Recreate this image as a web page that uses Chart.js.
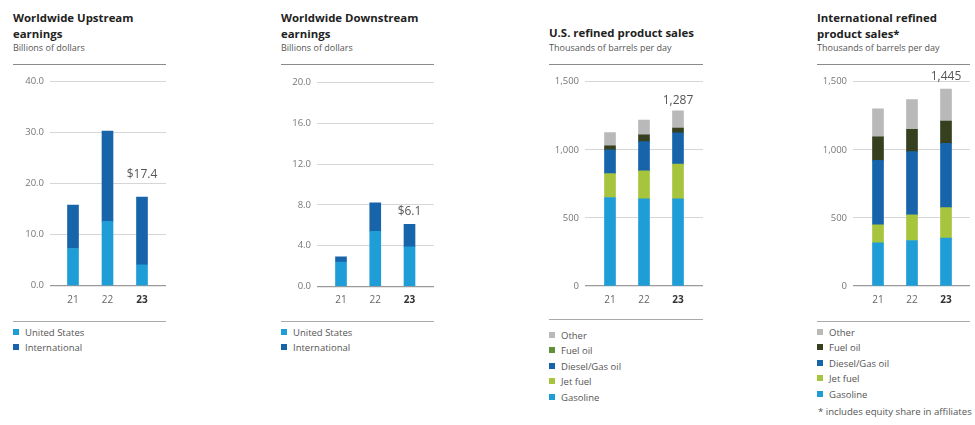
<!DOCTYPE html>
<html>
<head>
<meta charset="utf-8">
<script src="https://cdn.jsdelivr.net/npm/chart.js@4.4.0/dist/chart.umd.min.js"></script>
<style>
  body { margin: 0; background: #fff; font-family: "Open Sans", sans-serif; }
  #page { position: relative; width: 975px; height: 425px; overflow: hidden; }
  .title { position: absolute; font-weight: 700; font-size: 11.4px; line-height: 15.5px; color: #222; white-space: nowrap; }
  .sub { position: absolute; font-size: 9px; color: #555; white-space: nowrap; }
  .rule { position: absolute; height: 1px; background: #8a8a8a; }
  canvas { position: absolute; }
  .legend { position: absolute; font-size: 9.5px; color: #555; line-height: 15.4px; white-space: nowrap; }
  .legend span { display: inline-block; width: 6px; height: 6px; margin-right: 6px; vertical-align: 1px; }
  .note { position: absolute; font-size: 9.6px; color: #555; white-space: nowrap; }
</style>
</head>
<body>
<div id="page">
  <div class="title" style="left:13px;top:10px">Worldwide Upstream<br>earnings</div>
  <div class="sub" style="left:13px;top:41px">Billions of dollars</div>
  <div class="rule" style="left:13px;top:64px;width:153px"></div>
  <canvas id="c1"></canvas>
  <div class="rule" style="left:13px;top:321px;width:153px;background:#aaa"></div>
  <div class="legend" id="l1" style="left:13px;top:325px"></div>

  <div class="title" style="left:281px;top:10px">Worldwide Downstream<br>earnings</div>
  <div class="sub" style="left:281px;top:41px">Billions of dollars</div>
  <div class="rule" style="left:281px;top:64px;width:153px"></div>
  <canvas id="c2"></canvas>
  <div class="rule" style="left:281px;top:321px;width:153px;background:#aaa"></div>
  <div class="legend" id="l2" style="left:281px;top:325px"></div>

  <div class="title" style="left:549px;top:25px">U.S. refined product sales</div>
  <div class="sub" style="left:549px;top:41px">Thousands of barrels per day</div>
  <div class="rule" style="left:549px;top:64px;width:154px"></div>
  <canvas id="c3"></canvas>
  <div class="rule" style="left:549px;top:319px;width:154px;background:#aaa"></div>
  <div class="legend" id="l3" style="left:549px;top:328px"></div>

  <div class="title" style="left:817px;top:10px">International refined<br>product sales*</div>
  <div class="sub" style="left:817px;top:41px">Thousands of barrels per day</div>
  <div class="rule" style="left:817px;top:64px;width:153px"></div>
  <canvas id="c4"></canvas>
  <div class="rule" style="left:817px;top:321px;width:153px;background:#aaa"></div>
  <div class="legend" id="l4" style="left:817px;top:325px"></div>
  <div class="note" style="left:818px;top:405px">* includes equity share in affiliates</div>
</div>

<script>
// ---- data ----
const years = ['21', '22', '23'];

// Worldwide upstream earnings, billions of dollars
const upstreamUS = [7.3, 12.6, 4.1];
const upstreamIntl = [8.5, 17.7, 13.3];

// Worldwide downstream earnings, billions of dollars
const downstreamUS = [2.4, 5.4, 3.9];
const downstreamIntl = [0.5, 2.8, 2.2];

// U.S. refined product sales, thousands of barrels per day
const usGasoline = [650, 640, 640];
const usJetFuel = [175, 205, 255];
const usDiesel = [175, 215, 230];
const usFuelOil = [30, 50, 35];
const usOther = [97, 108, 127];

// International refined product sales, thousands of barrels per day
const intlGasoline = [317, 334, 351];
const intlJetFuel = [133, 188, 225];
const intlDiesel = [472, 465, 471];
const intlFuelOil = [174, 164, 163];
const intlOther = [205, 218, 235];

const earningsTicks = [0, 10, 20, 30, 40];
const downstreamTicks = [0, 4, 8, 12, 16, 20];
const salesTicks = [0, 500, 1000, 1500];

// ---- colours ----
const LIGHT_BLUE = '#1f9dd6';
const DARK_BLUE = '#1764ab';
const LIME = '#a6c43c';
const OLIVE = '#363f1e';
const GREEN = '#5f8f37';
const GREY = '#b9b9b9';
const FONT = 'Open Sans';

function series(label, values, color) {
  return {
    label: label,
    data: values.map((v, i) => ({ x: i, y: v })),
    backgroundColor: color,
    borderWidth: 0,
    barThickness: 11
  };
}

// draws the total above the last (current year) bar
const totalLabel = {
  id: 'totalLabel',
  afterDatasetsDraw(chart, args, opts) {
    const last = years.length - 1;
    let total = 0;
    chart.data.datasets.forEach((ds) => { total += ds.data[last].y; });
    const ctx = chart.ctx;
    const x = chart.scales.x.getPixelForValue(last);
    const y = chart.scales.y.getPixelForValue(total) - opts.gap;
    ctx.save();
    ctx.font = '12px "' + FONT + '"';
    ctx.fillStyle = '#555';
    ctx.textAlign = 'center';
    ctx.textBaseline = 'middle';
    ctx.fillText(opts.format(total), x, y);
    ctx.restore();
  }
};

// left/right = plot area edges, first = centre of first bar, step = bar spacing (px)
function makePanel(id, datasets, tickValues, fmt, geo, labelGap, labelFmt) {
  const canvas = document.getElementById(id);
  const axisW = 40;
  const top = 70, height = 240;
  canvas.style.left = (geo.left - axisW) + 'px';
  canvas.style.top = top + 'px';
  canvas.style.width = (geo.right - geo.left + axisW + 1) + 'px';
  canvas.style.height = height + 'px';
  canvas.width = geo.right - geo.left + axisW + 1;
  canvas.height = height;

  const xMin = -(geo.first - geo.left) / geo.step;
  const xMax = xMin + (geo.right - geo.left) / geo.step;

  return new Chart(canvas, {
    type: 'bar',
    data: { datasets: datasets },
    plugins: [totalLabel],
    options: {
      responsive: false,
      animation: false,
      layout: { padding: { top: geo.areaTop - top, right: 1, left: 0, bottom: 0 } },
      plugins: {
        legend: { display: false },
        tooltip: { enabled: false },
        totalLabel: { gap: labelGap, format: labelFmt }
      },
      scales: {
        x: {
          type: 'linear',
          stacked: true,
          offset: false,
          min: xMin,
          max: xMax,
          grid: { display: false },
          border: { display: false },
          afterFit: (s) => { s.height = top + height - geo.areaBottom; },
          ticks: {
            stepSize: 1,
            includeBounds: false,
            padding: 0,
            callback: (v) => years[v],
            color: (c) => c.tick && c.tick.value === years.length - 1 ? '#333' : '#666',
            font: (c) => ({ family: FONT, size: 10, weight: c.tick && c.tick.value === years.length - 1 ? 'bold' : 'normal' })
          }
        },
        y: {
          stacked: true,
          min: tickValues[0],
          max: tickValues[tickValues.length - 1],
          afterFit: (s) => { s.width = axisW; },
          afterBuildTicks: (s) => { s.ticks = tickValues.map((v) => ({ value: v })); },
          grid: {
            drawTicks: false,
            color: (c) => c.tick && c.tick.value === 0 ? '#9a9a9a' : '#d6d6d6',
            lineWidth: (c) => c.tick && c.tick.value === 0 ? 1.3 : 1
          },
          border: { display: false },
          ticks: {
            padding: 6,
            color: '#777',
            font: { family: FONT, size: 9.5 },
            callback: fmt
          }
        }
      }
    }
  });
}

function legend(id, items) {
  document.getElementById(id).innerHTML = items
    .map((it) => '<div><span style="background:' + it[1] + '"></span>' + it[0] + '</div>')
    .join('');
}

const oneDecimal = (v) => v.toFixed(1);
const thousands = (v) => v.toLocaleString('en-US');

makePanel('c1', [
  series('United States', upstreamUS, LIGHT_BLUE),
  series('International', upstreamIntl, DARK_BLUE)
], earningsTicks, oneDecimal,
  { left: 50, right: 166, first: 73, step: 34.5, areaTop: 81.5, areaBottom: 285.7 },
  22, (t) => '$' + t.toFixed(1));

makePanel('c2', [
  series('United States', downstreamUS, LIGHT_BLUE),
  series('International', downstreamIntl, DARK_BLUE)
], downstreamTicks, oneDecimal,
  { left: 317, right: 434, first: 341, step: 34.25, areaTop: 82.5, areaBottom: 286.5 },
  13, (t) => '$' + t.toFixed(1));

makePanel('c3', [
  series('Gasoline', usGasoline, LIGHT_BLUE),
  series('Jet fuel', usJetFuel, LIME),
  series('Diesel/Gas oil', usDiesel, DARK_BLUE),
  series('Fuel oil', usFuelOil, OLIVE),
  series('Other', usOther, GREY)
], salesTicks, thousands,
  { left: 585, right: 703, first: 610, step: 34, areaTop: 81.3, areaBottom: 286 },
  10, thousands);

makePanel('c4', [
  series('Gasoline', intlGasoline, LIGHT_BLUE),
  series('Jet fuel', intlJetFuel, LIME),
  series('Diesel/Gas oil', intlDiesel, DARK_BLUE),
  series('Fuel oil', intlFuelOil, OLIVE),
  series('Other', intlOther, GREY)
], salesTicks, thousands,
  { left: 853, right: 970, first: 878, step: 34, areaTop: 81.7, areaBottom: 286 },
  13, thousands);

legend('l1', [['United States', LIGHT_BLUE], ['International', DARK_BLUE]]);
legend('l2', [['United States', LIGHT_BLUE], ['International', DARK_BLUE]]);
legend('l3', [['Other', GREY], ['Fuel oil', GREEN], ['Diesel/Gas oil', DARK_BLUE], ['Jet fuel', LIME], ['Gasoline', LIGHT_BLUE]]);
legend('l4', [['Other', GREY], ['Fuel oil', OLIVE], ['Diesel/Gas oil', DARK_BLUE], ['Jet fuel', LIME], ['Gasoline', LIGHT_BLUE]]);
</script>
</body>
</html>
